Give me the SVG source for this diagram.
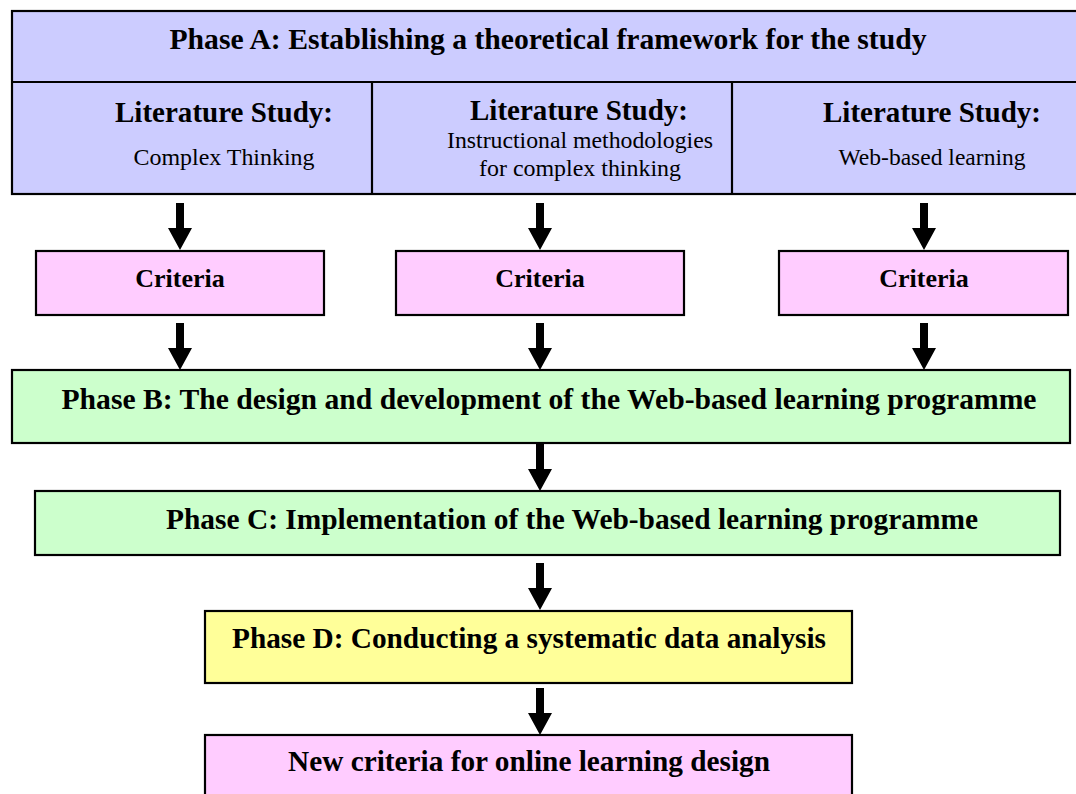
<svg xmlns="http://www.w3.org/2000/svg" width="1076" height="794" viewBox="0 0 1076 794">
  <defs>
    <!-- block arrow pointing down, origin at the tip -->
    <path id="arrowDown" d="M-4,-47 H4 V-22 H12 L0,0 L-12,-22 H-4 Z"/>
  </defs>
  <style>
    .box { stroke: #000; stroke-width: 2.2; }
    .phaseA { fill: #CCCCFF; }
    .crit { fill: #FFCCFF; }
    .phaseBC { fill: #CCFFCC; }
    .phaseD { fill: #FFFF99; }
    .div { stroke: #000; stroke-width: 2.2; fill: none; }
    text { font-family: "Liberation Serif", "Times New Roman", serif; fill: #000; text-anchor: middle; }
    .b { font-weight: bold; }
    .title { font-size: 29px; }
    .lit { font-size: 29px; }
    .sub { font-size: 24px; }
    .crit-t { font-size: 26px; }
    .arrow { fill: #000; }
  </style>
  <rect width="1076" height="794" fill="#fff"/>

  <!-- Phase A with its three literature study columns -->
  <g id="phaseA">
    <rect class="box phaseA" x="12" y="11" width="1080" height="183"/>
    <line class="div" x1="12" y1="82" x2="1092" y2="82"/>
    <line class="div" x1="372" y1="82" x2="372" y2="194"/>
    <line class="div" x1="732" y1="82" x2="732" y2="194"/>
    <text class="b title" x="548" y="49" textLength="757" lengthAdjust="spacingAndGlyphs">Phase A:  Establishing a theoretical framework for the study</text>
  </g>
  <g id="litComplex">
    <text class="b lit" x="224" y="122" textLength="218" lengthAdjust="spacingAndGlyphs">Literature Study:</text>
    <text class="sub" x="224" y="165" textLength="181" lengthAdjust="spacingAndGlyphs">Complex Thinking</text>
  </g>
  <g id="litInstructional">
    <text class="b lit" x="579" y="120" textLength="218" lengthAdjust="spacingAndGlyphs">Literature Study:</text>
    <text class="sub" x="580" y="148" textLength="266" lengthAdjust="spacingAndGlyphs">Instructional methodologies</text>
    <text class="sub" x="580" y="176" textLength="202" lengthAdjust="spacingAndGlyphs">for complex thinking</text>
  </g>
  <g id="litWeb">
    <text class="b lit" x="932" y="122" textLength="218" lengthAdjust="spacingAndGlyphs">Literature Study:</text>
    <text class="sub" x="932" y="165" textLength="187" lengthAdjust="spacingAndGlyphs">Web-based learning</text>
  </g>

  <!-- Criteria boxes -->
  <g id="criteria1">
    <rect class="box crit" x="36" y="251" width="288" height="64"/>
    <text class="b crit-t" x="180" y="287">Criteria</text>
  </g>
  <g id="criteria2">
    <rect class="box crit" x="396" y="251" width="288" height="64"/>
    <text class="b crit-t" x="540" y="287">Criteria</text>
  </g>
  <g id="criteria3">
    <rect class="box crit" x="779" y="251" width="289" height="64"/>
    <text class="b crit-t" x="924" y="287">Criteria</text>
  </g>

  <!-- Phase B -->
  <g id="phaseB">
    <rect class="box phaseBC" x="12" y="370" width="1058" height="73"/>
    <text class="b title" x="549" y="409" textLength="975" lengthAdjust="spacingAndGlyphs">Phase B:  The design and development of the Web-based learning programme</text>
  </g>

  <!-- Phase C -->
  <g id="phaseC">
    <rect class="box phaseBC" x="35" y="491" width="1025" height="64"/>
    <text class="b title" x="572" y="529" textLength="812" lengthAdjust="spacingAndGlyphs">Phase C: Implementation of the Web-based learning programme</text>
  </g>

  <!-- Phase D -->
  <g id="phaseD">
    <rect class="box phaseD" x="205" y="611" width="647" height="72"/>
    <text class="b title" x="529" y="648" textLength="594" lengthAdjust="spacingAndGlyphs">Phase D: Conducting a systematic data analysis</text>
  </g>

  <!-- Outcome -->
  <g id="newCriteria">
    <rect class="box crit" x="205" y="735" width="647" height="80"/>
    <text class="b title" x="529" y="771" textLength="482" lengthAdjust="spacingAndGlyphs">New criteria for online learning design</text>
  </g>

  <!-- Connectors -->
  <g id="connectors" class="arrow">
    <use href="#arrowDown" x="180" y="250"/>
    <use href="#arrowDown" x="540" y="250"/>
    <use href="#arrowDown" x="924" y="250"/>
    <use href="#arrowDown" x="180" y="370"/>
    <use href="#arrowDown" x="540" y="370"/>
    <use href="#arrowDown" x="924" y="370"/>
    <use href="#arrowDown" x="540" y="491"/>
    <use href="#arrowDown" x="540" y="610"/>
    <use href="#arrowDown" x="540" y="735"/>
  </g>
</svg>
